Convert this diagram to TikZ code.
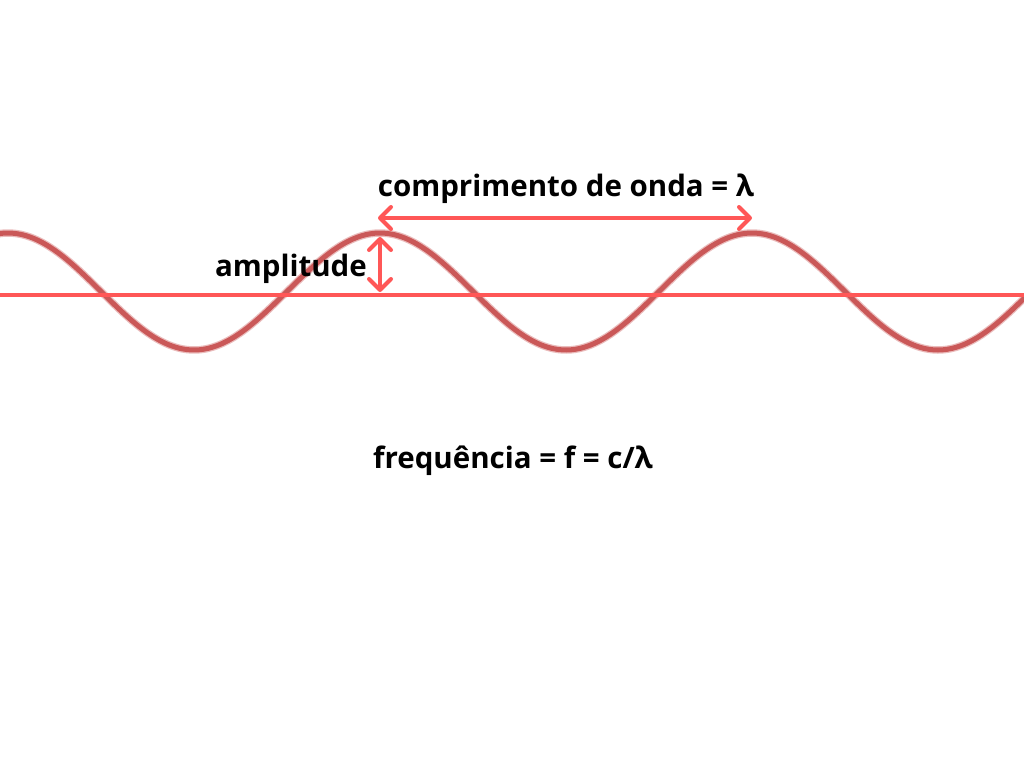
\documentclass[tikz,border=0pt]{standalone}
\usepackage{fontspec}
\setmainfont{Open Sans}
\usetikzlibrary{arrows.meta}
\definecolor{wavered}{RGB}{202,88,88}
\definecolor{markred}{RGB}{255,87,87}
\tikzset{
  label text/.style={font=\fontsize{29.5}{34}\selectfont\bfseries, inner sep=0pt},
  marker/.style={draw=markred, line width=4pt, line cap=round, line join=round,
    {Straight Barb[length=11pt, width=22pt, line cap=round, line join=round]}-{Straight Barb[length=11pt, width=22pt, line cap=round, line join=round]}}
}
\begin{document}
\begin{tikzpicture}[x=1pt, y=-1pt]
\useasboundingbox (0,0) rectangle (1024,768);
% wave, soft edge under a solid stroke
\draw[wavered, opacity=0.4, line width=7.5pt] plot[domain=-10:1034, samples=240, smooth] (\x, {291.5-58.5*cos((\x-380)/372*360)});
\draw[wavered, line width=5pt] plot[domain=-10:1034, samples=240, smooth] (\x, {291.5-58.5*cos((\x-380)/372*360)});
% axis line
\coordinate (axisL) at (0,295);
\coordinate (axisR) at (1024,295);
\draw[markred, line width=4pt] (axisL) -- (axisR);
% marks
\coordinate (lamL) at (378,218);
\coordinate (lamR) at (752,218);
\coordinate (crest) at (380,237);
\coordinate (base) at (380,292);
\draw[marker] (lamL) -- (lamR);
\draw[marker] (crest) -- (base);
% texts
\node[label text] (lambda) at (566,188.5) {comprimento de onda = λ};
\node[label text, anchor=east] (amp) at (367,268.5) {amplitude};
\node[label text] (freq) at (513,460.5) {frequência = f = c/λ};
\end{tikzpicture}
\end{document}
